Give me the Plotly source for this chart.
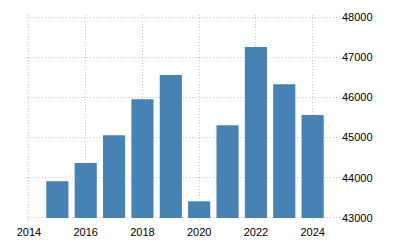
import plotly.graph_objects as go

years = [2015, 2016, 2017, 2018, 2019, 2020, 2021, 2022, 2023, 2024]
values = [43915, 44365, 45060, 45955, 46555, 43415, 45310, 47255, 46330, 45560]
x_ticks = [2014, 2016, 2018, 2020, 2022, 2024]
y_ticks = [43000, 44000, 45000, 46000, 47000, 48000]
baseline = 43000

fig = go.Figure()
fig.add_trace(go.Bar(x=years, y=[v - baseline for v in values], base=baseline,
                     marker=dict(color="#4682B4", line=dict(width=0)), width=0.78))

fig.update_layout(
    width=400, height=250,
    margin=dict(l=27, r=59, t=15, b=30),
    plot_bgcolor="white", paper_bgcolor="white",
    showlegend=False,
    font=dict(family="Liberation Sans, Arial, sans-serif", size=11, color="#000000"),
)
fig.update_xaxes(range=[2013.93, 2025], tickvals=x_ticks, ticktext=[str(t) for t in x_ticks],
                 showgrid=True, gridcolor="#c8c8c8", griddash="1px,2px", gridwidth=1,
                 zeroline=False, showline=False, ticks="", ticklabelstandoff=4)
fig.update_yaxes(range=[42950, 48050], tickvals=y_ticks, ticktext=[str(t) for t in y_ticks],
                 side="right", showgrid=True, gridcolor="#c8c8c8", griddash="1px,2px", gridwidth=1,
                 zeroline=False, showline=False, ticks="")

fig.write_html("out.html")
